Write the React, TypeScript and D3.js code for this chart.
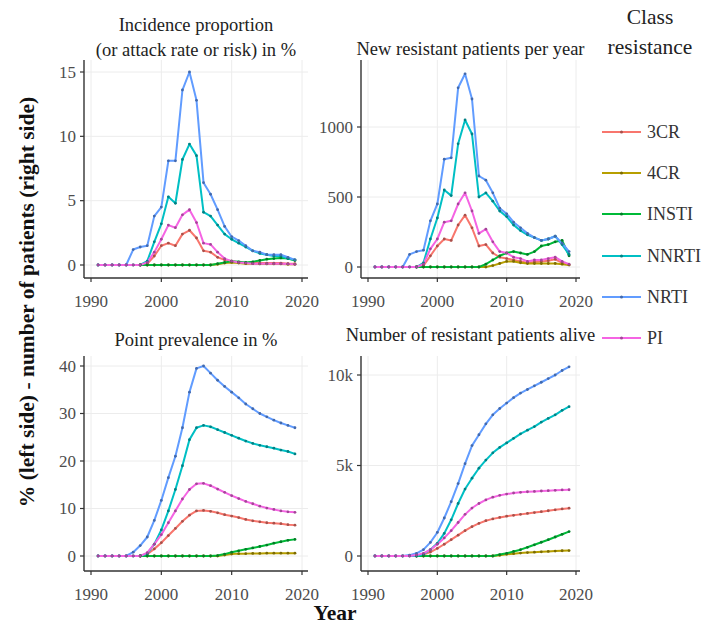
import React from "react";
import * as d3 from "d3";

const N = null;
const years = [1991,1992,1993,1994,1995,1996,1997,1998,1999,2000,2001,2002,2003,2004,2005,2006,2007,2008,2009,2010,2011,2012,2013,2014,2015,2016,2017,2018,2019];
const classes = ["3CR", "4CR", "INSTI", "NNRTI", "NRTI", "PI"];
const colors = ["#F8766D", "#B79F00", "#00BA38", "#00BFC4", "#619CFF", "#F564E3"];

// Incidence proportion (%)
const inc3CR = [N,N,N,N,N,N,0,0.1,0.7,1.5,1.7,1.5,2.4,2.7,2.1,1.1,1.0,0.6,0.4,0.3,0.2,0.15,0.15,0.15,0.15,0.15,0.15,0.1,0.1];
const inc4CR = [N,N,N,N,N,N,0,0,0,0,0,0,0,0,0,0,0,0.05,0.15,0.2,0.15,0.1,0.1,0.08,0.08,0.08,0.08,0.06,0.05];
const incINSTI = [N,N,N,N,N,N,0,0,0,0,0,0,0,0,0,0,0,0.1,0.2,0.3,0.25,0.2,0.25,0.35,0.45,0.5,0.55,0.5,0.35];
const incNNRTI = [0,0,0,0,0,0,0,0.3,1.8,3.2,5.3,4.8,8.2,9.4,8.5,4.1,3.8,3.1,2.4,2.0,1.7,1.4,1.1,0.9,0.8,0.7,0.7,0.5,0.4];
const incNRTI = [0,0,0,0,0,1.2,1.4,1.5,3.8,4.5,8.1,8.1,13.6,15.0,12.8,6.4,5.5,4.3,3.0,2.2,1.9,1.5,1.1,1.0,0.8,0.8,0.8,0.6,0.4];
const incPI = [0,0,0,0,0,0,0,0.2,1.0,2.0,3.1,2.9,3.9,4.3,3.3,1.7,1.6,1.0,0.5,0.3,0.2,0.15,0.1,0.1,0.1,0.1,0.1,0.08,0.05];

// New resistant patients per year
const new3CR = [N,N,N,N,N,N,0,10,80,150,200,190,300,370,280,150,160,100,70,60,50,40,30,35,40,45,55,30,15];
const new4CR = [N,N,N,N,N,N,0,0,0,0,0,0,0,0,0,0,0,10,25,40,40,30,25,25,25,25,25,20,15];
const newINSTI = [N,N,N,N,N,N,0,0,0,0,0,0,0,0,0,0,20,50,80,100,110,100,90,110,150,160,180,190,80];
const newNNRTI = [0,0,0,0,0,0,0,30,200,350,550,510,880,1050,950,500,530,470,400,360,300,260,230,210,190,200,220,160,90];
const newNRTI = [0,0,0,0,0,90,110,120,330,450,770,780,1280,1380,1200,650,620,530,420,380,320,280,240,210,190,200,220,170,110];
const newPI = [0,0,0,0,0,0,0,20,130,200,320,330,450,530,400,240,270,180,110,100,70,60,40,50,50,60,70,40,20];

// Point prevalence (%)
const prev3CR = [N,N,N,N,N,N,0,0.4,1.5,2.8,4.3,5.8,7.3,8.6,9.5,9.6,9.4,9.1,8.7,8.4,8.1,7.7,7.4,7.2,7.0,6.9,6.8,6.6,6.5];
const prev4CR = [N,N,N,N,N,N,0,0,0,0,0,0,0,0,0,0,0,0,0.2,0.4,0.5,0.5,0.55,0.55,0.6,0.6,0.6,0.6,0.6];
const prevINSTI = [N,N,N,N,N,N,0,0,0,0,0,0,0,0,0,0,0,0.1,0.4,0.8,1.1,1.4,1.7,2.0,2.3,2.7,3.0,3.3,3.5];
const prevNNRTI = [0,0,0,0,0,0,0,0.5,2.5,5.5,9.5,14,19,24.5,27,27.5,27.2,26.6,26,25.4,24.8,24.2,23.7,23.3,23,22.7,22.3,22,21.5];
const prevNRTI = [0,0,0,0,0,0.8,2.2,4.0,7.5,11.7,16.5,21,27,34.5,39.5,40,38.5,37,35.7,34.5,33.3,32,31,30,29.3,28.6,28,27.5,27];
const prevPI = [0,0,0,0,0,0,0,0.7,2.5,4.5,7,9.5,12,14,15.2,15.3,14.8,14.1,13.4,12.7,12.1,11.5,11,10.5,10.1,9.8,9.5,9.3,9.2];

// Number of resistant patients alive
const alive3CR = [N,N,N,N,N,N,0,80,220,420,650,900,1150,1400,1620,1800,1950,2050,2130,2200,2250,2300,2350,2400,2450,2500,2550,2600,2640];
const alive4CR = [N,N,N,N,N,N,0,0,0,0,0,0,0,0,0,0,0,0,40,90,130,160,190,210,230,250,270,290,300];
const aliveINSTI = [N,N,N,N,N,N,0,0,0,0,0,0,0,0,0,0,0,0,80,150,250,350,480,620,760,900,1050,1200,1350];
const aliveNNRTI = [0,0,0,0,0,0,0,100,350,700,1250,2000,2900,3700,4300,4850,5300,5700,6000,6250,6500,6750,6950,7150,7400,7600,7800,8050,8250];
const aliveNRTI = [0,0,0,0,0,50,150,350,750,1300,2100,3000,4000,5100,6100,6700,7300,7800,8150,8450,8750,9000,9200,9400,9600,9800,10000,10250,10450];
const alivePI = [0,0,0,0,0,0,50,150,350,650,1000,1400,1850,2300,2650,2900,3100,3250,3350,3420,3480,3520,3550,3570,3590,3610,3630,3650,3660];

const xTicks = [1990, 2000, 2010, 2020];
const ticksIncidence = [0, 5, 10, 15];
const ticksNew = [0, 500, 1000];
const ticksPrev = [0, 10, 20, 30, 40];
const ticksAlive = [0, 5000, 10000];
const labelsAlive = ["0", "5k", "10k"];

const titleIncidence = ["Incidence proportion", "(or attack rate or risk) in %"];
const titleNew = ["New resistant patients per year"];
const titlePrev = ["Point prevalence in %"];
const titleAlive = ["Number of resistant patients alive"];

const FONT = "'Liberation Serif', 'DejaVu Serif', serif";

const cols = [
  { axisX: 84, x0: 91, x1: 302, right: 308 },
  { axisX: 361, x0: 368, x1: 576, right: 580 },
];
const rows = [
  { axisY: 278, top: 60, tickLabelY: 301 },
  { axisY: 571, top: 356, tickLabelY: 594 },
];

const panels = [
  { col: 0, row: 0, title: titleIncidence, titleY: [25, 50], series: [inc3CR, inc4CR, incINSTI, incNNRTI, incNRTI, incPI], ticks: ticksIncidence, labels: ticksIncidence.map(String), yRef: [0, 15], yPix: [265, 72] },
  { col: 1, row: 0, title: titleNew, titleY: [49], series: [new3CR, new4CR, newINSTI, newNNRTI, newNRTI, newPI], ticks: ticksNew, labels: ticksNew.map(String), yRef: [0, 1000], yPix: [267, 127] },
  { col: 0, row: 1, title: titlePrev, titleY: [340], series: [prev3CR, prev4CR, prevINSTI, prevNNRTI, prevNRTI, prevPI], ticks: ticksPrev, labels: ticksPrev.map(String), yRef: [0, 40], yPix: [556, 366] },
  { col: 1, row: 1, title: titleAlive, titleY: [335], series: [alive3CR, alive4CR, aliveINSTI, aliveNNRTI, aliveNRTI, alivePI], ticks: ticksAlive, labels: labelsAlive, yRef: [0, 10000], yPix: [556, 375] },
];

const dark = (c: string) => d3.color(c)!.darker(1.1).formatHex();

function Panel({ p }: { p: any }) {
  const c = cols[p.col];
  const r = rows[p.row];
  const x = d3.scaleLinear().domain([1990, 2020]).range([c.x0, c.x1]);
  const y = d3.scaleLinear().domain(p.yRef).range(p.yPix);
  const line = d3
    .line<any>()
    .defined((d) => d.v !== null)
    .x((d) => x(d.year))
    .y((d) => y(d.v));
  const seriesData = p.series.map((arr: any[]) => years.map((yr, i) => ({ year: yr, v: arr[i] })));
  const cx = (c.axisX + c.right) / 2;
  return (
    <g>
      {xTicks.map((t) => (
        <line key={"gx" + t} x1={x(t)} x2={x(t)} y1={r.top} y2={r.axisY} stroke="#ececec" strokeWidth={1} />
      ))}
      {p.ticks.map((t: number) => (
        <line key={"gy" + t} x1={c.axisX} x2={c.right} y1={y(t)} y2={y(t)} stroke="#ececec" strokeWidth={1} />
      ))}
      {seriesData.map((sd: any[], i: number) => (
        <path key={"l" + i} d={line(sd) || ""} fill="none" stroke={colors[i]} strokeWidth={2} strokeLinejoin="round" />
      ))}
      {seriesData.map((sd: any[], i: number) => (
        <g key={"p" + i} fill={dark(colors[i])}>
          {sd.filter((d) => d.v !== null).map((d) => (
            <circle key={d.year} cx={x(d.year)} cy={y(d.v)} r={1.4} />
          ))}
        </g>
      ))}
      <line x1={c.axisX} x2={c.axisX} y1={r.top} y2={r.axisY} stroke="#333" strokeWidth={1.4} />
      <line x1={c.axisX} x2={c.right} y1={r.axisY} y2={r.axisY} stroke="#333" strokeWidth={1.4} />
      {p.ticks.map((t: number, i: number) => (
        <g key={"ty" + t}>
          <line x1={c.axisX - 4} x2={c.axisX} y1={y(t)} y2={y(t)} stroke="#333" strokeWidth={1.2} />
          <text x={c.axisX - 8} y={y(t)} textAnchor="end" dominantBaseline="central" fontFamily={FONT} fontSize={17} fill="#4d4d4d">
            {p.labels[i]}
          </text>
        </g>
      ))}
      {xTicks.map((t) => (
        <g key={"tx" + t}>
          <line x1={x(t)} x2={x(t)} y1={r.axisY} y2={r.axisY + 4} stroke="#333" strokeWidth={1.2} />
          <text x={x(t)} y={r.tickLabelY} textAnchor="middle" dominantBaseline="central" fontFamily={FONT} fontSize={17} fill="#4d4d4d">
            {t}
          </text>
        </g>
      ))}
      {p.title.map((s: string, i: number) => (
        <text key={"t" + i} x={cx} y={p.titleY[i]} textAnchor="middle" dominantBaseline="central" fontFamily={FONT} fontSize={18.5} fill="#222">
          {s}
        </text>
      ))}
    </g>
  );
}

const legendY = [132, 173, 214, 256, 297, 338];

export default function App() {
  return (
    <svg width={706} height={627} style={{ position: "absolute", left: 0, top: 0, background: "#fff" }}>
      <rect width={706} height={627} fill="#fff" />
      {panels.map((p, i) => (
        <Panel key={i} p={p} />
      ))}
      <text
        transform="translate(27,302) rotate(-90)"
        textAnchor="middle"
        dominantBaseline="central"
        fontFamily={FONT}
        fontSize={21.5}
        fontWeight="bold"
        fill="#111"
      >
        % (left side) - number of patients (right side)
      </text>
      <text x={335} y={613} textAnchor="middle" dominantBaseline="central" fontFamily={FONT} fontSize={21.5} fontWeight="bold" fill="#111">
        Year
      </text>
      <text x={650} y={17} textAnchor="middle" dominantBaseline="central" fontFamily={FONT} fontSize={21.5} fill="#222">
        Class
      </text>
      <text x={650} y={47} textAnchor="middle" dominantBaseline="central" fontFamily={FONT} fontSize={21.5} fill="#222">
        resistance
      </text>
      {classes.map((cl, i) => (
        <g key={cl}>
          <line x1={602} x2={641} y1={legendY[i]} y2={legendY[i]} stroke={colors[i]} strokeWidth={2} />
          <circle cx={621.5} cy={legendY[i]} r={1.5} fill={dark(colors[i])} />
          <text x={647} y={legendY[i]} dominantBaseline="central" fontFamily={FONT} fontSize={18} fill="#333">
            {cl}
          </text>
        </g>
      ))}
    </svg>
  );
}
